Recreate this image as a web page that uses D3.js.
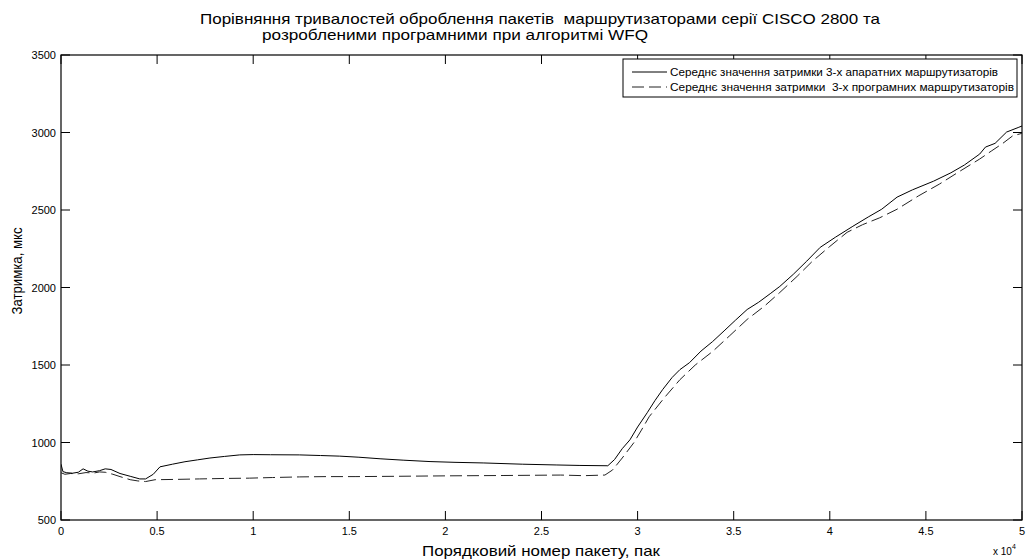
<!DOCTYPE html>
<html><head><meta charset="utf-8">
<script src="https://cdn.jsdelivr.net/npm/d3@7"></script>
<style>body{margin:0;background:#fff}svg{display:block}text{font-family:"Liberation Sans",Arial,sans-serif;white-space:pre}</style>
</head><body><svg id="c" width="1026" height="560"></svg>
<script>
const titleLines = ["Порівняння тривалостей оброблення пакетів  маршрутизаторами серії CISCO 2800 та", "розробленими програмними при алгоритмі WFQ"];
const xLabel = "Порядковий номер пакету, пак";
const yLabel = "Затримка, мкс";
const seriesNames = ["Середнє значення затримки 3-х апаратних маршрутизаторів", "Середнє значення затримки  3-х програмних маршрутизаторів"];
const xTicks = [0, 5000, 10000, 15000, 20000, 25000, 30000, 35000, 40000, 45000, 50000];
const xTickLabels = ["0", "0.5", "1", "1.5", "2", "2.5", "3", "3.5", "4", "4.5", "5"];
const yTicks = [500, 1000, 1500, 2000, 2500, 3000, 3500];

const hwX = [0, 100, 300, 600, 900, 1150, 1400, 1650, 2000, 2300, 2600, 3070, 3600, 4100, 4400, 4800, 5150, 5800, 6450, 7100, 7750, 8500, 9300, 10000, 10900, 12400, 13500, 14500, 15500, 16600, 17800, 19200, 20500, 22000, 24000, 25800, 27000, 28450, 28800, 29200, 29600, 30000, 30500, 30900, 31300, 31800, 32200, 32700, 33300, 33900, 34500, 35100, 35700, 36300, 36900, 37400, 38100, 38800, 39500, 40300, 41200, 42000, 42700, 43500, 44300, 45400, 46300, 47000, 47800, 48100, 48600, 49200, 49800, 50000];
const hwY = [860, 812, 805, 802, 808, 830, 815, 810, 818, 830, 826, 800, 782, 765, 765, 795, 843, 860, 876, 888, 900, 910, 920, 922, 921, 920, 916, 912, 905, 895, 886, 877, 872, 868, 860, 855, 852, 850, 890, 960, 1017, 1100, 1192, 1270, 1341, 1420, 1470, 1515, 1590, 1651, 1720, 1790, 1858, 1905, 1960, 2007, 2085, 2170, 2259, 2325, 2395, 2455, 2505, 2583, 2630, 2686, 2740, 2790, 2861, 2906, 2930, 3003, 3032, 3042];

const swX = [0, 200, 500, 900, 1300, 1700, 2000, 2300, 2700, 3070, 3600, 4000, 4400, 4900, 6000, 7200, 8500, 9800, 11000, 12400, 13800, 15300, 17500, 20200, 23000, 26000, 27200, 28300, 28700, 29200, 29800, 30200, 30600, 31400, 32200, 33000, 33900, 34800, 35700, 36600, 37400, 38300, 39100, 40000, 40900, 41700, 42600, 43500, 44600, 45700, 46700, 47800, 48400, 49000, 49500, 50000];
const swY = [805, 795, 800, 798, 806, 803, 810, 808, 795, 780, 760, 752, 748, 760, 762, 765, 768, 770, 774, 778, 780, 780, 782, 785, 787, 790, 786, 790, 823, 900, 998, 1080, 1166, 1290, 1405, 1500, 1587, 1690, 1794, 1880, 1968, 2072, 2170, 2265, 2356, 2405, 2450, 2505, 2590, 2667, 2745, 2829, 2880, 2930, 2977, 2995];

const svg = d3.select("#c");
const m = {l: 61, r: 1022, t: 55, b: 520};
const x = d3.scaleLinear().domain([0, 50000]).range([m.l, m.r]);
const y = d3.scaleLinear().domain([500, 3500]).range([m.b, m.t]);

// title
svg.append("text").attr("x", 200).attr("y", 24).attr("font-size", 15)
  .attr("textLength", 680).attr("lengthAdjust", "spacingAndGlyphs").text(titleLines[0]);
svg.append("text").attr("x", 262).attr("y", 40).attr("font-size", 15)
  .attr("textLength", 386).attr("lengthAdjust", "spacingAndGlyphs").text(titleLines[1]);

// box
svg.append("rect").attr("x", m.l).attr("y", m.t).attr("width", m.r - m.l).attr("height", m.b - m.t)
  .attr("fill", "none").attr("stroke", "#000").attr("stroke-width", 1.2);

const tl = 9;
const gx = svg.append("g");
xTicks.forEach((t, i) => {
  const px = x(t);
  gx.append("line").attr("x1", px).attr("x2", px).attr("y1", m.b).attr("y2", m.b - tl).attr("stroke", "#000");
  gx.append("line").attr("x1", px).attr("x2", px).attr("y1", m.t).attr("y2", m.t + tl).attr("stroke", "#000");
  gx.append("text").attr("x", px).attr("y", m.b + 15).attr("text-anchor", "middle").attr("font-size", 11).text(xTickLabels[i]);
});
const gy = svg.append("g");
yTicks.forEach(t => {
  const py = y(t);
  gy.append("line").attr("x1", m.l).attr("x2", m.l + tl).attr("y1", py).attr("y2", py).attr("stroke", "#000");
  gy.append("line").attr("x1", m.r).attr("x2", m.r - tl).attr("y1", py).attr("y2", py).attr("stroke", "#000");
  gy.append("text").attr("x", m.l - 5).attr("y", py + 4).attr("text-anchor", "end").attr("font-size", 11).text(t);
});

// x10^4
const ex = svg.append("text").attr("x", 993).attr("y", 555).attr("font-size", 10);
ex.append("tspan").text("x 10");
ex.append("tspan").attr("dy", -6).attr("font-size", 7).text("4");

// axis labels
svg.append("text").attr("x", 541).attr("y", 556).attr("text-anchor", "middle").attr("font-size", 15)
  .attr("textLength", 238).attr("lengthAdjust", "spacingAndGlyphs").text(xLabel);
svg.append("text").attr("transform", "translate(22,271) rotate(-90)").attr("text-anchor", "middle").attr("font-size", 14)
  .attr("textLength", 87).attr("lengthAdjust", "spacingAndGlyphs").text(yLabel);

const line = d3.line().x(d => x(d[0])).y(d => y(d[1]));
const hw = hwX.map((v, i) => [v, hwY[i]]);
const sw = swX.map((v, i) => [v, swY[i]]);
svg.append("clipPath").attr("id", "cp").append("rect").attr("x", m.l).attr("y", m.t).attr("width", m.r - m.l).attr("height", m.b - m.t);
svg.append("path").attr("d", line(sw)).attr("fill", "none").attr("stroke", "#222").attr("stroke-width", 1).attr("stroke-dasharray", "12,5").attr("clip-path", "url(#cp)");
svg.append("path").attr("d", line(hw)).attr("fill", "none").attr("stroke", "#000").attr("stroke-width", 1).attr("clip-path", "url(#cp)");

// legend
const lg = svg.append("g");
lg.append("rect").attr("x", 623).attr("y", 59).attr("width", 394).attr("height", 38).attr("fill", "#fff").attr("stroke", "#000").attr("stroke-width", 1);
lg.append("line").attr("x1", 632).attr("x2", 667).attr("y1", 72).attr("y2", 72).attr("stroke", "#000");
lg.append("line").attr("x1", 632).attr("x2", 667).attr("y1", 87).attr("y2", 87).attr("stroke", "#222").attr("stroke-dasharray", "12,5");
lg.append("text").attr("x", 670).attr("y", 76).attr("font-size", 11)
  .attr("textLength", 328).attr("lengthAdjust", "spacingAndGlyphs").text(seriesNames[0]);
lg.append("text").attr("x", 670).attr("y", 91).attr("font-size", 11)
  .attr("textLength", 344).attr("lengthAdjust", "spacingAndGlyphs").text(seriesNames[1]);
</script></body></html>
